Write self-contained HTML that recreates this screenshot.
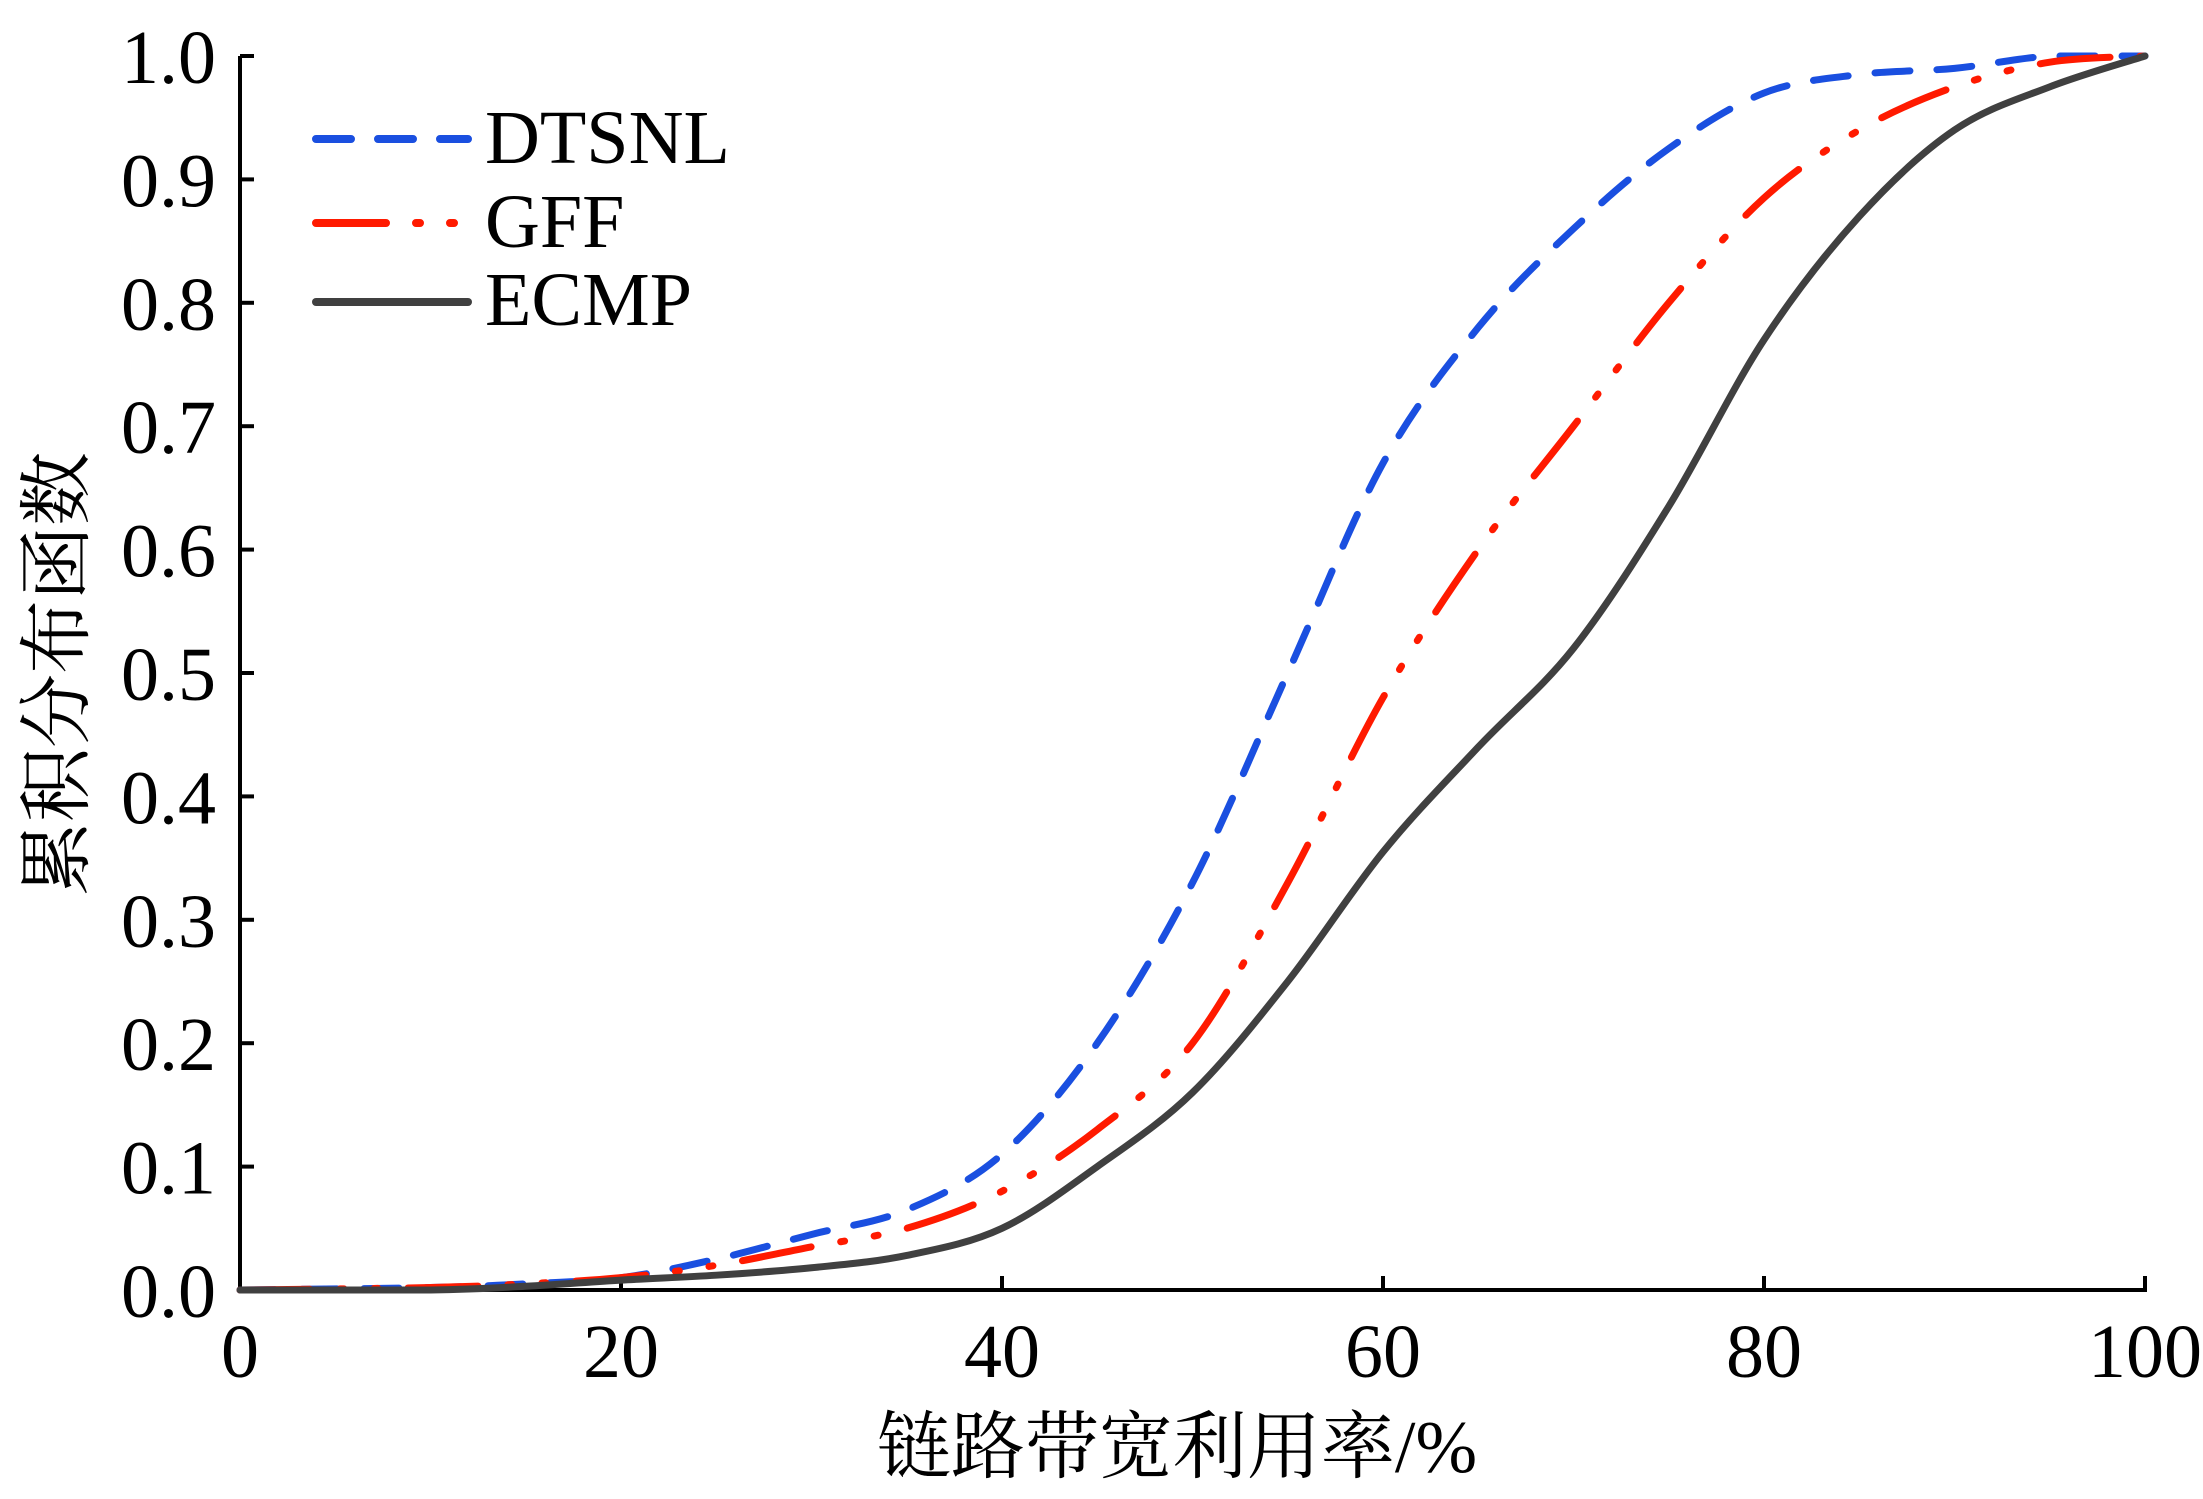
<!DOCTYPE html>
<html><head><meta charset="utf-8"><style>
html,body{margin:0;padding:0;background:#fff;}
svg{display:block;}
text{font-family:"Liberation Serif","Noto Serif CJK SC",serif;fill:#000;}
</style></head><body>
<svg id="chart" width="2203" height="1499" viewBox="0 0 2203 1499" xmlns="http://www.w3.org/2000/svg">
<g id="axes"></g>
<g id="series"></g>
<g id="legend"></g>
</svg>
<script>
const xValues = [0,10,15,20,25,30,35,40,45,50,55,60,65,70,75,80,85,90,95,100];
const dtsnl = [0,0.002,0.005,0.01,0.025,0.045,0.065,0.11,0.2,0.33,0.5,0.67,0.78,0.86,0.925,0.97,0.985,0.99,1.0,1.0];
const gff   = [0,0.002,0.005,0.01,0.02,0.035,0.05,0.08,0.13,0.2,0.33,0.48,0.6,0.7,0.8,0.885,0.94,0.975,0.995,1.0];
const ecmp  = [0,0,0.003,0.008,0.012,0.018,0.028,0.05,0.1,0.16,0.25,0.355,0.44,0.52,0.635,0.77,0.87,0.94,0.975,1.0];
const xTicks = [0,20,40,60,80,100];
const yTicks = [0,0.1,0.2,0.3,0.4,0.5,0.6,0.7,0.8,0.9,1.0];
const seriesNames = ["DTSNL","GFF","ECMP"];

const NS="http://www.w3.org/2000/svg";
const X0=240,X1=2145,Y0=1290,Y1=56;
const xs=v=>X0+(v-0)/(100-0)*(X1-X0);
const ys=v=>Y0-(v-0)/(1-0)*(Y0-Y1);
function mk(tag,attrs,parent){const e=document.createElementNS(NS,tag);for(const k in attrs)e.setAttribute(k,attrs[k]);parent.appendChild(e);return e;}
const axes=document.getElementById('axes');
let a=mk('path',{d:`M${X0},${Y1} L${X0},${Y0} L${X1},${Y0} L${X1},${Y0-14}`,fill:'none',stroke:'#000','stroke-width':4},axes);


xTicks.forEach(t=>{
  const l=mk('line',{x1:xs(t),x2:xs(t),y1:Y0,y2:Y0-14,stroke:'#000','stroke-width':4},axes);
  
  
  const tx=mk('text',{x:xs(t),y:1377,'text-anchor':'middle','font-size':76},axes);
  tx.textContent=String(t);
  
  
});
yTicks.forEach(t=>{
  const l=mk('line',{x1:X0,x2:X0+14,y1:ys(t),y2:ys(t),stroke:'#000','stroke-width':4},axes);
  
  
  const tx=mk('text',{x:216,y:ys(t)+27,'text-anchor':'end','font-size':76},axes);
  tx.textContent=t.toFixed(1);
  
  
});
let xl=mk('text',{x:1177,y:1472,'text-anchor':'middle','font-size':74},axes);
xl.textContent='链路带宽利用率/%';


let yl=mk('text',{x:0,y:0,'text-anchor':'middle','font-size':74,transform:'translate(82,674) rotate(-90)'},axes);
yl.textContent='累积分布函数';



function clampY(y,a,b){const lo=Math.min(a,b),hi=Math.max(a,b);return Math.max(lo,Math.min(hi,y));}
function smooth(vals){
  const p=xValues.map((x,i)=>[xs(x),ys(vals[i])]);
  let d=`M${p[0][0]},${p[0][1]}`;
  for(let i=0;i<p.length-1;i++){
    const p0=p[Math.max(0,i-1)],p1=p[i],p2=p[i+1],p3=p[Math.min(p.length-1,i+2)];
    const c1=[p1[0]+(p2[0]-p0[0])/6,clampY(p1[1]+(p2[1]-p0[1])/6,p1[1],p2[1])];
    const c2=[p2[0]-(p3[0]-p1[0])/6,clampY(p2[1]-(p3[1]-p1[1])/6,p1[1],p2[1])];
    d+=` C${c1[0]},${c1[1]} ${c2[0]},${c2[1]} ${p2[0]},${p2[1]}`;
  }
  return d;
}
const styles=[
  {stroke:'#1a4fe0',dash:'35 27'},
  {stroke:'#ff1a00',dash:'70 30 4 30 4 30'},
  {stroke:'#404040',dash:''}
];
const sg=document.getElementById('series');
[dtsnl,gff,ecmp].forEach((vals,i)=>{
  const p=mk('path',{d:smooth(vals),fill:'none',stroke:styles[i].stroke,'stroke-width':7,'stroke-linecap':'round'},sg);
  if(styles[i].dash)p.setAttribute('stroke-dasharray',styles[i].dash);
  
  
});
const lg=document.getElementById('legend');
const ly=[139,223,302],lb=[163,247,325];
seriesNames.forEach((n,i)=>{
  const l=mk('line',{x1:316,x2:468,y1:ly[i],y2:ly[i],stroke:styles[i].stroke,'stroke-width':8,'stroke-linecap':'round'},lg);
  if(styles[i].dash)l.setAttribute('stroke-dasharray',styles[i].dash);
  
  
  const t=mk('text',{x:485,y:lb[i],'font-size':76},lg);
  t.textContent=n;
  
  
});
</script>
</body></html>
